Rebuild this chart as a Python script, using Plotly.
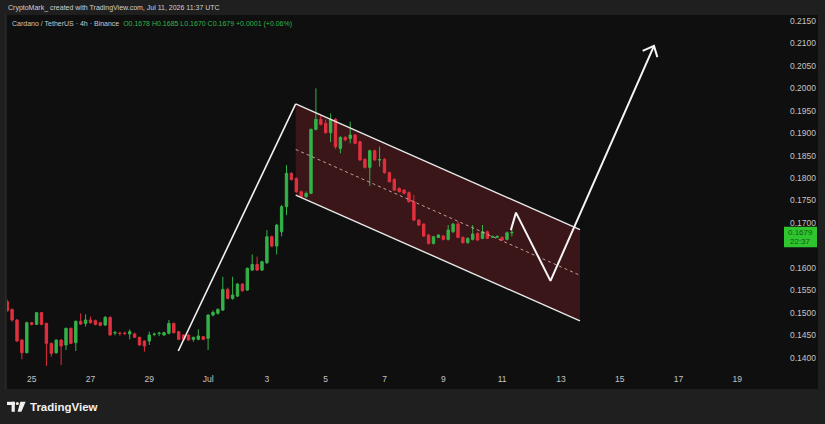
import plotly.graph_objects as go
import pandas as pd

# ---------------- data (ADA/USDT 4h) ----------------
start_time = "2026-06-24 04:00"
opens = [0.15248, 0.15077, 0.14840, 0.14394, 0.14112, 0.14780, 0.14743, 0.15003, 0.14765, 0.14320,
         0.14112, 0.14394, 0.14283, 0.14654, 0.14335, 0.14810, 0.14765, 0.14840, 0.14825, 0.14780,
         0.14728, 0.14899, 0.14550, 0.14545, 0.14550, 0.14528, 0.14528, 0.14454, 0.14372, 0.14372,
         0.14520, 0.14540, 0.14506, 0.14543, 0.14765, 0.14580, 0.14506, 0.14506, 0.14409, 0.14409,
         0.14469, 0.14432, 0.14951, 0.14990, 0.15061, 0.15521, 0.15321, 0.15372, 0.15639, 0.15506,
         0.15951, 0.16077, 0.15951, 0.16114, 0.16693, 0.16485, 0.16804, 0.17361, 0.18103, 0.17992,
         0.17695, 0.17583, 0.17658, 0.19082, 0.19305, 0.19216, 0.19008, 0.19305, 0.18659, 0.18904,
         0.18880, 0.18956, 0.18808, 0.18415, 0.18236, 0.18607, 0.18400, 0.18415, 0.18118, 0.17970,
         0.17769, 0.17732, 0.17673, 0.17472, 0.17064, 0.16975, 0.16730, 0.16545, 0.16678, 0.16708,
         0.16634, 0.16804, 0.16975, 0.16678, 0.16560, 0.16634, 0.16767, 0.16656, 0.16804, 0.16690,
         0.16680, 0.16678, 0.16634, 0.16780]
highs = [0.15300, 0.15090, 0.14860, 0.14410, 0.14803, 0.14800, 0.15020, 0.15020, 0.14780, 0.14340,
         0.14410, 0.14410, 0.14670, 0.14670, 0.14830, 0.14988, 0.14966, 0.14914, 0.14850, 0.14800,
         0.14929, 0.14920, 0.14600, 0.14580, 0.14580, 0.14632, 0.14560, 0.14470, 0.14390, 0.14580,
         0.14560, 0.14580, 0.14580, 0.14840, 0.14780, 0.14600, 0.14520, 0.14520, 0.14470, 0.14632,
         0.14480, 0.14970, 0.15050, 0.15100, 0.15803, 0.15560, 0.15803, 0.15660, 0.15660, 0.16010,
         0.16300, 0.16250, 0.16160, 0.16841, 0.16720, 0.16980, 0.17400, 0.18288, 0.18130, 0.18010,
         0.17720, 0.17700, 0.19100, 0.19995, 0.19400, 0.19300, 0.19438, 0.19330, 0.18930, 0.18930,
         0.19253, 0.18980, 0.18830, 0.18440, 0.18630, 0.18630, 0.18697, 0.18440, 0.18140, 0.17990,
         0.17790, 0.17750, 0.17700, 0.17621, 0.17080, 0.16990, 0.16750, 0.16710, 0.16750, 0.16730,
         0.16953, 0.17000, 0.17030, 0.16700, 0.16680, 0.16953, 0.16790, 0.16953, 0.16830, 0.16720,
         0.16720, 0.16700, 0.16810, 0.16850]
lows = [0.15025, 0.14803, 0.14357, 0.13964, 0.14098, 0.14720, 0.14730, 0.14720, 0.13816, 0.14023,
        0.14090, 0.13838, 0.14172, 0.14300, 0.14150, 0.14730, 0.14691, 0.14760, 0.14720, 0.14700,
        0.14710, 0.14490, 0.14500, 0.14490, 0.14500, 0.14409, 0.14440, 0.14270, 0.14135, 0.14283,
        0.14480, 0.14480, 0.14490, 0.14520, 0.14540, 0.14390, 0.14390, 0.14380, 0.14357, 0.14390,
        0.14390, 0.14172, 0.14920, 0.14960, 0.15040, 0.15300, 0.15290, 0.15350, 0.15470, 0.15490,
        0.15930, 0.15930, 0.15930, 0.16090, 0.16460, 0.16300, 0.16700, 0.17175, 0.17940, 0.17670,
        0.17560, 0.17560, 0.17640, 0.19060, 0.19170, 0.18990, 0.18800, 0.18650, 0.18550, 0.18820,
        0.18771, 0.18750, 0.18380, 0.18210, 0.17821, 0.18380, 0.18252, 0.18100, 0.17900, 0.17710,
        0.17680, 0.17640, 0.17450, 0.17040, 0.16930, 0.16690, 0.16520, 0.16520, 0.16660, 0.16610,
        0.16610, 0.16780, 0.16660, 0.16540, 0.16540, 0.16610, 0.16600, 0.16640, 0.16640, 0.16660,
        0.16660, 0.16600, 0.16610, 0.16700]
closes = [0.15047, 0.14840, 0.14372, 0.14112, 0.14780, 0.14743, 0.15003, 0.14743, 0.14320, 0.14098,
          0.14394, 0.14261, 0.14654, 0.14320, 0.14810, 0.14751, 0.14840, 0.14780, 0.14743, 0.14721,
          0.14899, 0.14506, 0.14560, 0.14540, 0.14540, 0.14580, 0.14454, 0.14283, 0.14261, 0.14506,
          0.14525, 0.14545, 0.14558, 0.14765, 0.14558, 0.14409, 0.14409, 0.14394, 0.14454, 0.14484,
          0.14409, 0.14951, 0.15010, 0.15076, 0.15521, 0.15321, 0.15395, 0.15639, 0.15491, 0.15988,
          0.16077, 0.15951, 0.16136, 0.16693, 0.16485, 0.16953, 0.17361, 0.18103, 0.17969, 0.17695,
          0.17583, 0.17658, 0.19082, 0.19305, 0.19194, 0.19008, 0.19305, 0.18697, 0.18904, 0.18850,
          0.18956, 0.18771, 0.18400, 0.18236, 0.18607, 0.18400, 0.18410, 0.18118, 0.17917, 0.17732,
          0.17695, 0.17658, 0.17472, 0.17064, 0.16953, 0.16708, 0.16545, 0.16693, 0.16730, 0.16634,
          0.16842, 0.16975, 0.16678, 0.16560, 0.16656, 0.16753, 0.16619, 0.16804, 0.16656, 0.16695,
          0.16700, 0.16619, 0.16780, 0.16790]

# drawings (time, price)
pole_t = ["2026-06-29 23:40", "2026-07-03 23:30"]
pole_p = [0.1415, 0.1965]
chan_t = ["2026-07-03 23:30", "2026-07-13 15:35"]
chan_top = [0.1965, 0.1685]
chan_bot = [0.1762, 0.1482]
chan_mid = [0.18635, 0.15835]
zig_t = ["2026-07-11 07:10", "2026-07-11 11:20", "2026-07-12 15:30", "2026-07-16 04:00"]
zig_p = [0.1684, 0.1723, 0.1571, 0.2094]
head_t = ["2026-07-15 18:45", "2026-07-16 04:00", "2026-07-16 06:45"]
head_p = [0.2083, 0.2094, 0.2069]

x_tick_vals = ["2026-06-25", "2026-06-27", "2026-06-29", "2026-07-01", "2026-07-03", "2026-07-05",
               "2026-07-07", "2026-07-09", "2026-07-11", "2026-07-13", "2026-07-15", "2026-07-17",
               "2026-07-19"]
x_tick_text = ["25", "27", "29", "Jul", "3", "5", "7", "9", "11", "13", "15", "17", "19"]
y_tick_vals = [0.140, 0.145, 0.150, 0.155, 0.160, 0.170, 0.175, 0.180, 0.185, 0.190,
               0.195, 0.200, 0.205, 0.210, 0.215]

header_text = "CryptoMark_ created with TradingView.com, Jul 11, 2026 11:37 UTC"
symbol_text = "Cardano / TetherUS · 4h · Binance"
countdown = "22:37"

# ---------------- figure ----------------
times = pd.date_range(start_time, periods=len(opens), freq="4h")

UP = "#33b249"
DN = "#e0303f"
BG = "#0f0f0f"
FRAME = "#1f1f1f"
TXT = "#c4c4c4"
FONT = "Liberation Sans"

W, H = 825, 424
L, R, T, B = 7, 784, 15, 372


def px(x):
    return (x - L) / (R - L)


def py(y):
    return (B - y) / (B - T)


fig = go.Figure()

# channel fill (base layer)
fig.add_trace(go.Scatter(
    x=[chan_t[0], chan_t[1], chan_t[1], chan_t[0], chan_t[0]],
    y=[chan_top[0], chan_top[1], chan_bot[1], chan_bot[0], chan_top[0]],
    fill="toself", fillcolor="rgba(150,38,44,0.32)", mode="none",
    hoverinfo="skip", showlegend=False, xaxis="x", yaxis="y"))

fig.add_trace(go.Candlestick(
    x=times, open=opens, high=highs, low=lows, close=closes,
    increasing=dict(line=dict(color=UP, width=1), fillcolor=UP),
    decreasing=dict(line=dict(color=DN, width=1), fillcolor=DN),
    whiskerwidth=0, showlegend=False, hoverinfo="skip", xaxis="x", yaxis="y2"))

line_style = dict(color="#f2f2f2", width=1.6)
fig.add_trace(go.Scatter(x=pole_t, y=pole_p, mode="lines", line=line_style,
                         hoverinfo="skip", showlegend=False, yaxis="y2"))
fig.add_trace(go.Scatter(x=chan_t, y=chan_top, mode="lines", line=dict(color="#e8e8e8", width=1.4),
                         hoverinfo="skip", showlegend=False, yaxis="y2"))
fig.add_trace(go.Scatter(x=chan_t, y=chan_bot, mode="lines", line=dict(color="#e8e8e8", width=1.4),
                         hoverinfo="skip", showlegend=False, yaxis="y2"))
fig.add_trace(go.Scatter(x=chan_t, y=chan_mid, mode="lines",
                         line=dict(color="rgba(240,200,200,0.75)", width=1, dash="3px,3px"),
                         hoverinfo="skip", showlegend=False, yaxis="y2"))
fig.add_trace(go.Scatter(x=zig_t, y=zig_p, mode="lines", line=dict(color="#f5f5f5", width=2),
                         hoverinfo="skip", showlegend=False, yaxis="y2"))
fig.add_trace(go.Scatter(x=head_t, y=head_p, mode="lines", line=dict(color="#f5f5f5", width=2),
                         hoverinfo="skip", showlegend=False, yaxis="y2"))

x_range = ["2026-06-24 03:50", "2026-07-20 14:08"]
y_range = [0.13683, 0.21627]

shapes = [
    # chart panel
    dict(type="rect", xref="paper", yref="paper", x0=px(7), x1=px(818), y0=py(389), y1=py(15),
         fillcolor=BG, line=dict(width=0), layer="below"),
    # left frame line
    dict(type="line", xref="paper", yref="paper", x0=px(5.5), x1=px(5.5), y0=py(389), y1=py(15),
         line=dict(color="#2a2a2a", width=1), layer="below"),
    # last price label
    dict(type="rect", xref="paper", yref="paper", x0=px(784), x1=px(817), y0=py(247.3), y1=py(226.7),
         fillcolor="#2fc52f", line=dict(width=0), layer="above"),
    # TradingView logo pieces
    dict(type="rect", xref="paper", yref="paper", x0=px(7), x1=px(14.8), y0=py(405), y1=py(401.8),
         fillcolor="#f0f0f0", line=dict(width=0)),
    dict(type="rect", xref="paper", yref="paper", x0=px(11.6), x1=px(14.8), y0=py(411.8), y1=py(401.8),
         fillcolor="#f0f0f0", line=dict(width=0)),
    dict(type="circle", xref="paper", yref="paper", x0=px(15.8), x1=px(18.8), y0=py(405), y1=py(402),
         fillcolor="#f0f0f0", line=dict(width=0)),
    dict(type="path", xref="paper", yref="paper",
         path=f"M {px(20.3)},{py(401.8)} L {px(25.6)},{py(401.8)} L {px(21.4)},{py(411.8)} L {px(17.6)},{py(411.8)} Z",
         fillcolor="#f0f0f0", line=dict(width=0)),
]

last_o, last_h, last_l, last_c = opens[-1], highs[-1], lows[-1], closes[-1]
chg = last_c - closes[-2]
pct = chg / closes[-2] * 100
ohlc_text = (f"O{last_o:.4f} H{last_h:.4f} L{last_l:.4f} C{last_c:.4f} "
             f"{chg:+.4f} ({pct:+.2f}%)")

annotations = [
    dict(text=header_text, x=px(6), y=py(8), xref="paper", yref="paper", showarrow=False,
         xanchor="left", yanchor="middle", font=dict(family=FONT, size=7, color="#d0d0d0")),
    dict(text=f"{symbol_text}&nbsp;&nbsp;<span style='color:#2db84a'>{ohlc_text}</span>",
         x=px(10), y=py(24), xref="paper", yref="paper", showarrow=False,
         xanchor="left", yanchor="middle", font=dict(family=FONT, size=7, color="#c8c8c8")),
    dict(text=f"{last_c:.4f}", x=px(800.5), y=py(232.3), xref="paper", yref="paper", showarrow=False,
         xanchor="center", yanchor="middle", font=dict(family=FONT, size=8, color="#115a11")),
    dict(text=countdown, x=px(800.5), y=py(241.8), xref="paper", yref="paper", showarrow=False,
         xanchor="center", yanchor="middle", font=dict(family=FONT, size=8, color="#115a11")),
    dict(text="TradingView", x=px(28), y=py(407), xref="paper", yref="paper", showarrow=False,
         xanchor="left", yanchor="middle", font=dict(family=FONT, size=11.5, color="#f0f0f0"),
         ),
]
annotations[-1]["text"] = "<b>TradingView</b>"

fig.update_layout(
    width=W, height=H,
    margin=dict(l=L, r=W - R, t=T, b=H - B, pad=0),
    paper_bgcolor=FRAME, plot_bgcolor=BG,
    showlegend=False, dragmode=False,
    xaxis=dict(type="date", range=x_range, rangeslider=dict(visible=False),
               tickvals=x_tick_vals, ticktext=x_tick_text, showgrid=False, zeroline=False,
               showline=False, ticks="", tickfont=dict(family=FONT, size=8.5, color=TXT),
               fixedrange=True),
    yaxis=dict(range=y_range, side="right", tickvals=y_tick_vals, tickformat=".4f",
               showgrid=False, zeroline=False, showline=False, ticks="",
               ticklabelstandoff=5, tickfont=dict(family=FONT, size=8.5, color=TXT),
               fixedrange=True),
    yaxis2=dict(range=y_range, overlaying="y", side="right", visible=False, fixedrange=True),
    shapes=shapes, annotations=annotations,
)

fig.write_html("out.html")
